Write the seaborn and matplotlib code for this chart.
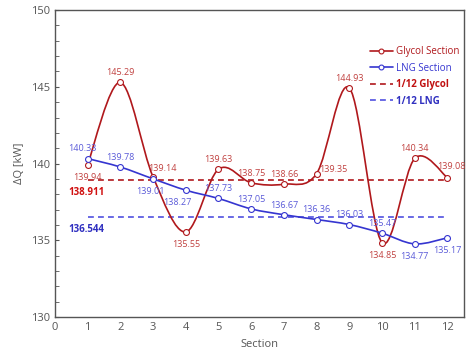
import numpy as np
import pandas as pd
import seaborn as sns
import matplotlib.pyplot as plt
from matplotlib.path import Path
from matplotlib.patches import PathPatch

sections = list(range(1, 13))
glycol = [139.94, 145.29, 139.14, 135.55, 139.63, 138.75, 138.66, 139.35, 144.93, 134.85, 140.34, 139.08]
lng = [140.33, 139.78, 139.01, 138.27, 137.73, 137.05, 136.67, 136.36, 136.03, 135.47, 134.77, 135.17]
glycol_avg = 138.911
lng_avg = 136.544

# label offsets in points (dx, dy) per point
glycol_off = [(0, -9), (0, 7), (7, 6), (0, -9), (0, 7), (0, 7), (0, 7), (12, 3), (0, 7), (0, -9), (0, 7), (3, 8)]
lng_off = [(-4, 7), (0, 7), (-2, -9), (-6, -9), (0, 7), (0, 7), (0, 7), (0, 7), (0, 7), (0, 7), (0, -9), (0, -9)]

RED = '#b0181c'
RED_T = '#c0403f'
BLUE = '#3535d0'
BLUE_T = '#5a5ad8'

df = pd.DataFrame({'Section': sections * 2,
                   'dQ': glycol + lng,
                   'Series': ['Glycol Section'] * 12 + ['LNG Section'] * 12})

sns.set_style('white')
plt.rcParams['font.family'] = ['Open Sans', 'DejaVu Sans']

fig = plt.figure(figsize=(4.69, 3.6), dpi=100)
ax = fig.add_axes([0.117, 0.119, 0.872, 0.853])


def smooth_path(x, y, color):
    # Excel-like smooth line: cubic bezier through each point
    pts = np.column_stack([x, y]).astype(float)
    n = len(pts)
    verts = [pts[0]]
    codes = [Path.MOVETO]
    for i in range(n - 1):
        p0 = pts[max(i - 1, 0)]
        p1 = pts[i]
        p2 = pts[i + 1]
        p3 = pts[min(i + 2, n - 1)]
        c1 = p1 + (p2 - p0) / 6
        c2 = p2 - (p3 - p1) / 6
        verts += [c1, c2, p2]
        codes += [Path.CURVE4] * 3
    ax.add_patch(PathPatch(Path(verts, codes), fill=False, edgecolor=color, lw=1.2, zorder=2))


smooth_path(sections, glycol, RED)
smooth_path(sections, lng, BLUE)

for name, c in [('Glycol Section', RED), ('LNG Section', BLUE)]:
    sns.scatterplot(data=df[df['Series'] == name], x='Section', y='dQ', ax=ax,
                    facecolor='white', edgecolor=c, s=18, linewidth=0.8, zorder=3, legend=False)

ax.hlines(glycol_avg, 1, 12, colors=RED, linestyles=(0, (3.5, 2.5)), lw=1.2, zorder=1)
ax.hlines(lng_avg, 1, 12, colors='#5050e0', linestyles=(0, (3.5, 2.5)), lw=1.2, zorder=1)

for x, y, (dx, dy) in zip(sections, glycol, glycol_off):
    ax.annotate(f'{y:.2f}', (x, y), xytext=(dx, dy), textcoords='offset points',
                ha='center', va='center', fontsize=6.5, color=RED_T)
for x, y, (dx, dy) in zip(sections, lng, lng_off):
    ax.annotate(f'{y:.2f}', (x, y), xytext=(dx, dy), textcoords='offset points',
                ha='center', va='center', fontsize=6.5, color=BLUE_T)

ax.annotate(f'{glycol_avg:.3f}', (1, glycol_avg), xytext=(-1, -9), textcoords='offset points',
            ha='center', va='center', fontsize=7, color='#d01010', fontweight='bold')
ax.annotate(f'{lng_avg:.3f}', (1, lng_avg), xytext=(-1, -9), textcoords='offset points',
            ha='center', va='center', fontsize=7, color='#3030c0', fontweight='bold')

ax.set_xlim(0, 12.5)
ax.set_ylim(130, 150)
ax.set_xticks(range(0, 13))
ax.set_yticks(range(130, 151, 5))
ax.set_yticks(range(130, 151, 1), minor=True)
ax.tick_params(axis='y', which='both', direction='in', length=3, color='#555555', left=True)
ax.tick_params(axis='x', length=0)
ax.tick_params(labelsize=8, labelcolor='#555555')
ax.set_xlabel('Section', fontsize=8, color='#555555')
ax.set_ylabel('ΔQ [kW]', fontsize=8, color='#555555')
for s in ax.spines.values():
    s.set_color('#555555')
    s.set_linewidth(1.0)

handles = [
    plt.Line2D([], [], color=RED, lw=1.2, marker='o', ms=3.5, mfc='white', mew=0.8),
    plt.Line2D([], [], color=BLUE, lw=1.2, marker='o', ms=3.5, mfc='white', mew=0.8),
    plt.Line2D([], [], color=RED, lw=1.2, ls=(0, (3.5, 2.5))),
    plt.Line2D([], [], color='#5050e0', lw=1.2, ls=(0, (3.5, 2.5))),
]
labels = ['Glycol Section', 'LNG Section', '1/12 Glycol', '1/12 LNG']
leg = ax.legend(handles, labels, loc='upper right', bbox_to_anchor=(1.01, 0.91), frameon=False,
                fontsize=7, handlelength=2.4, handletextpad=0.3, labelspacing=0.55)
for txt, c, w in zip(leg.get_texts(), [RED, BLUE, '#c01010', '#3030c0'], ['normal', 'normal', 'bold', 'bold']):
    txt.set_color(c)
    txt.set_fontweight(w)

fig.savefig('out.png', dpi=100)
